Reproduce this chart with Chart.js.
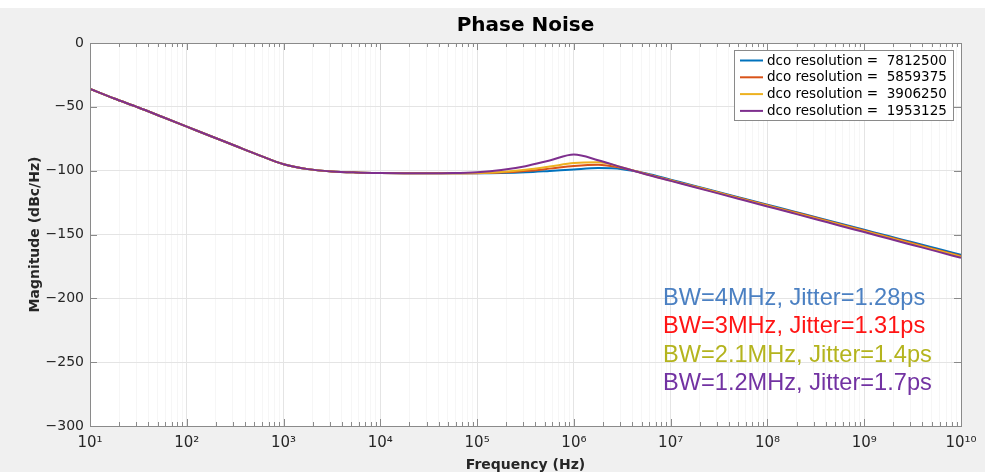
<!DOCTYPE html>
<html><head><meta charset="utf-8">
<script src="https://cdn.jsdelivr.net/npm/chart.js@4.4.1/dist/chart.umd.min.js"></script>
<style>html,body{margin:0;padding:0;background:#f0f0f0;}canvas{display:block;}</style>
</head><body>
<canvas id="c" width="985" height="472"></canvas>
<script>
// ---- data ----
const freqs = [10, 17.8, 31.6, 56.2, 100, 178, 316, 562, 1e3, 1.78e3, 3.16e3, 5.62e3,
  1e4, 1.78e4, 3.16e4, 5.62e4, 1e5, 1.78e5, 3.16e5, 5.62e5, 1e6, 1.78e6, 3.16e6, 5.62e6,
  1e7, 1.78e7, 3.16e7, 5.62e7, 1e8, 1.78e8, 3.16e8, 5.62e8, 1e9, 1.78e9, 3.16e9, 5.62e9, 1e10];
const seriesLabels = ['dco resolution =  7812500', 'dco resolution =  5859375',
  'dco resolution =  3906250', 'dco resolution =  1953125'];
const res7812500 = [-36, -43.5, -50.5, -58, -65.5, -73, -80.5, -88, -95, -98.8, -100.6, -101.4,
  -101.8, -102, -102.1, -102.1, -102.1, -101.9, -101.3, -100.2, -99, -98, -98.8, -102.2,
  -107.1, -112, -116.9, -121.8, -126.7, -131.6, -136.5, -141.4, -146.3, -151.2, -156.1, -161, -165.9];
const res5859375 = [-36, -43.5, -50.5, -58, -65.5, -73, -80.5, -88, -95, -98.8, -100.6, -101.4,
  -101.8, -102, -102.1, -102.1, -102, -101.5, -100.3, -98.4, -96.3, -95.3, -98, -102.6,
  -107.5, -112.4, -117.3, -122.2, -127.1, -132, -136.9, -141.9, -146.9, -151.9, -156.9, -161.9, -166.9];
const res3906250 = [-36, -43.5, -50.5, -58, -65.5, -73, -80.5, -88, -95, -98.8, -100.6, -101.4,
  -101.8, -102, -102.1, -102.1, -101.9, -101, -99.3, -96.8, -94, -93.5, -97.4, -102.8,
  -107.7, -112.6, -117.5, -122.5, -127.5, -132.5, -137.4, -142.4, -147.4, -152.4, -157.4, -162.4, -167.4];
const res1953125 = [-36, -43.5, -50.5, -58, -65.5, -73, -80.5, -88, -95, -98.8, -100.6, -101.4,
  -101.8, -102, -102.1, -101.9, -101.2, -99.5, -96.5, -92, -87.4, -91.8, -97.5, -103,
  -108, -113, -118, -123, -128, -133, -138, -143.1, -148.1, -153.2, -158.2, -163.2, -168.3];
const yTickValues = [0, -50, -100, -150, -200, -250, -300];
const xTickLabels = ['10¹', '10²', '10³', '10⁴', '10⁵', '10⁶', '10⁷', '10⁸', '10⁹', '10¹⁰'];
const notes = ['BW=4MHz, Jitter=1.28ps', 'BW=3MHz, Jitter=1.31ps', 'BW=2.1MHz, Jitter=1.4ps', 'BW=1.2MHz, Jitter=1.7ps'];

// ---- styles ----
const lineColors = ['#0072BD', '#D95319', '#EDB120', '#7E2F8E'];
const noteColors = ['#4b80c2', '#ff1414', '#b4b41e', '#7232a2'];
const seriesValues = [res7812500, res5859375, res3906250, res1953125];

function isPow10(v) { const e = Math.round(Math.log10(v)); return Math.abs(v - Math.pow(10, e)) / v < 1e-9; }

const datasets = seriesValues.map((vals, i) => ({
  label: seriesLabels[i],
  data: freqs.map((f, k) => ({ x: f, y: vals[k] })),
  borderColor: lineColors[i],
  backgroundColor: lineColors[i],
  borderWidth: 2,
  pointRadius: 0,
  cubicInterpolationMode: 'monotone',
  fill: false,
  order: 4 - i
}));

const decorPlugin = {
  id: 'decor',
  beforeDraw(chart) {
    const ctx = chart.ctx, ca = chart.chartArea;
    ctx.save();
    ctx.fillStyle = '#ffffff';
    ctx.fillRect(0, 0, chart.width, 8);
    ctx.fillStyle = '#f0f0f0';
    ctx.fillRect(0, 8, chart.width, chart.height - 8);
    ctx.fillStyle = '#ffffff';
    ctx.fillRect(ca.left, ca.top, ca.right - ca.left, ca.bottom - ca.top);
    ctx.restore();
  },
  afterDraw(chart) {
    const ctx = chart.ctx, ca = chart.chartArea;
    const xs = chart.scales.x, ys = chart.scales.y;
    ctx.save();
    // box + inward ticks
    ctx.strokeStyle = '#8a8a8a';
    ctx.lineWidth = 1;
    ctx.beginPath();
    xs.ticks.forEach(t => {
      const px = Math.round(xs.getPixelForValue(t.value)) + 0.5;
      const len = isPow10(t.value) ? 7 : 4;
      ctx.moveTo(px, ca.bottom); ctx.lineTo(px, ca.bottom - len);
      ctx.moveTo(px, ca.top); ctx.lineTo(px, ca.top + len);
    });
    ys.ticks.forEach(t => {
      const py = Math.round(ys.getPixelForValue(t.value)) + 0.5;
      ctx.moveTo(ca.left, py); ctx.lineTo(ca.left + 7, py);
      ctx.moveTo(ca.right, py); ctx.lineTo(ca.right - 7, py);
    });
    ctx.stroke();
    ctx.strokeRect(Math.round(ca.left) + 0.5, Math.round(ca.top) + 0.5,
      Math.round(ca.right - ca.left), Math.round(ca.bottom - ca.top));

    // title
    ctx.fillStyle = '#000';
    ctx.font = 'bold 20px "DejaVu Sans"';
    ctx.textAlign = 'center';
    ctx.textBaseline = 'alphabetic';
    ctx.fillText('Phase Noise', (ca.left + ca.right) / 2, 31);

    // legend
    const lx = ca.right - 227, ly = ca.top + 7, lw = 219, lh = 70;
    ctx.fillStyle = '#fff';
    ctx.fillRect(lx, ly, lw, lh);
    ctx.strokeStyle = '#8a8a8a';
    ctx.strokeRect(lx + 0.5, ly + 0.5, lw, lh);
    ctx.font = '13.5px "DejaVu Sans"';
    ctx.textAlign = 'left';
    ctx.textBaseline = 'middle';
    seriesLabels.forEach((lab, i) => {
      const yy = ly + 10.5 + i * 16.8;
      ctx.strokeStyle = lineColors[i];
      ctx.lineWidth = 2;
      ctx.beginPath(); ctx.moveTo(lx + 6, yy); ctx.lineTo(lx + 29, yy); ctx.stroke();
      ctx.fillStyle = '#000';
      ctx.fillText(lab, lx + 33, yy + 0.5);
    });

    // annotations
    ctx.font = '23.6px "Liberation Sans"';
    ctx.textBaseline = 'alphabetic';
    notes.forEach((n, i) => {
      ctx.fillStyle = noteColors[i];
      ctx.fillText(n, 663, 305 + i * 28.3);
    });
    ctx.restore();
  }
};

new Chart(document.getElementById('c'), {
  type: 'line',
  data: { datasets },
  options: {
    responsive: false,
    animation: false,
    devicePixelRatio: 1,
    layout: { padding: { left: 0, right: 24, top: 43, bottom: 0 } },
    plugins: { legend: { display: false }, title: { display: false }, tooltip: { enabled: false } },
    scales: {
      x: {
        type: 'logarithmic', min: 10, max: 1e10,
        afterBuildTicks: s => {
          const t = [];
          for (let e = 1; e < 10; e++) for (let m = 1; m < 10; m++) t.push({ value: m * Math.pow(10, e) });
          t.push({ value: 1e10 });
          s.ticks = t;
        },
        ticks: {
          autoSkip: false, maxRotation: 0, minRotation: 0, padding: 8,
          color: '#262626', font: { family: 'DejaVu Sans', size: 15 },
          callback: v => isPow10(v) ? xTickLabels[Math.round(Math.log10(v)) - 1] : ''
        },
        grid: {
          drawTicks: false,
          color: c => (c.tick && isPow10(c.tick.value)) ? '#e4e4e4' : '#f6f6f6'
        },
        border: { display: false },
        title: { display: true, text: 'Frequency (Hz)', color: '#262626',
          font: { family: 'DejaVu Sans', size: 14, weight: 'bold' }, padding: { top: 0, bottom: -2 } },
        afterFit: s => { s.height = 46; }
      },
      y: {
        min: -300, max: 0,
        afterBuildTicks: s => { s.ticks = yTickValues.map(v => ({ value: v })); },
        ticks: {
          padding: 6, color: '#262626', font: { family: 'DejaVu Sans', size: 14 },
          callback: v => String(v).replace('-', '−')
        },
        grid: { drawTicks: false, color: '#e4e4e4' },
        border: { display: false },
        title: { display: true, text: 'Magnitude (dBc/Hz)', color: '#262626',
          font: { family: 'DejaVu Sans', size: 14, weight: 'bold' }, padding: { top: 27, bottom: 0 } },
        afterFit: s => { s.width = 90; }
      }
    }
  },
  plugins: [decorPlugin]
});
</script>
</body></html>
